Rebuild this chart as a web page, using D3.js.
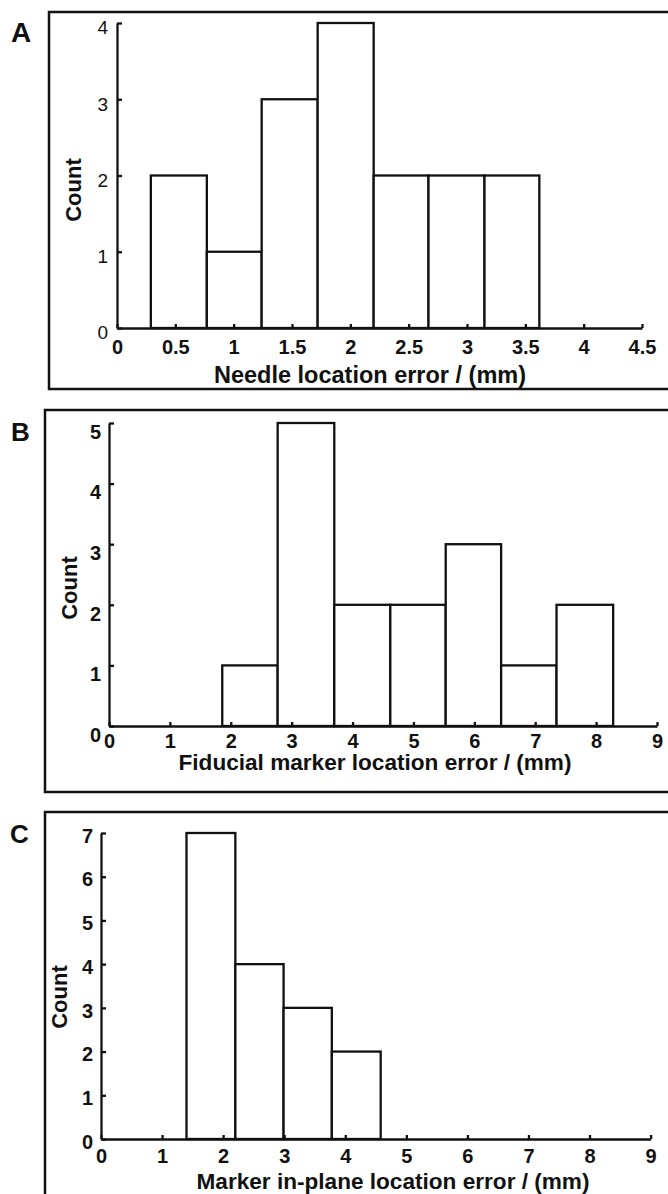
<!DOCTYPE html>
<html>
<head>
<meta charset="utf-8">
<script src="https://cdn.jsdelivr.net/npm/d3@7"></script>
<style>
  body { margin: 0; background: #fff; }
  svg { display: block; }
  text { font-family: "Liberation Sans", Arial, Helvetica, sans-serif; fill: #111; }
</style>
</head>
<body>
<svg id="fig" width="668" height="1194"></svg>
<script>
// ---- data ----
// A: needle location error histogram
var aEdges = [0.29, 0.77, 1.24, 1.72, 2.20, 2.67, 3.15, 3.62]
var aCounts = [2, 1, 3, 4, 2, 2, 2]
var aXTicks = [0, 0.5, 1, 1.5, 2, 2.5, 3, 3.5, 4, 4.5]
var aYTicks = [0, 1, 2, 3, 4]

// B: fiducial marker location error
var bEdges = [1.86, 2.77, 3.70, 4.62, 5.53, 6.44, 7.35, 8.28]
var bCounts = [1, 5, 2, 2, 3, 1, 2]
var bXTicks = [0, 1, 2, 3, 4, 5, 6, 7, 8, 9]
var bYTicks = [0, 1, 2, 3, 4, 5]

// C: marker in-plane location error
var cEdges = [1.40, 2.20, 2.99, 3.78, 4.58]
var cCounts = [7, 4, 3, 2]
var cXTicks = [0, 1, 2, 3, 4, 5, 6, 7, 8, 9]
var cYTicks = [0, 1, 2, 3, 4, 5, 6, 7]

var panels = [
  {letter: "A", edges: aEdges, counts: aCounts, xTicks: aXTicks, yTicks: aYTicks,
   xTitle: "Needle location error / (mm)",
   frame: {x: 49, y: 12, h: 377}, xr: [117, 642], yr: [328, 23],
   letterPos: [11, 42], letterSize: 28,
   xLab: {dy: 19, size: 20}, yLab: {dx: 9, dy: 4, size: 19, weight: "normal"},
   countPos: [73, 190], titlePos: [370, 375], titleSize: 23.5},
  {letter: "B", edges: bEdges, counts: bCounts, xTicks: bXTicks, yTicks: bYTicks,
   xTitle: "Fiducial marker location error / (mm)",
   frame: {x: 45, y: 410, h: 382}, xr: [109, 657], yr: [726, 423],
   letterPos: [11, 441], letterSize: 26,
   xLab: {dy: 15, size: 20}, yLab: {dx: 8, dy: 8, size: 20, weight: "bold"},
   countPos: [69, 588], titlePos: [375, 762], titleSize: 22.6},
  {letter: "C", edges: cEdges, counts: cCounts, xTicks: cXTicks, yTicks: cYTicks,
   xTitle: "Marker in-plane location error / (mm)",
   frame: {x: 45, y: 812, h: 400}, xr: [101, 650.6], yr: [1139, 833],
   letterPos: [10, 843], letterSize: 26,
   xLab: {dy: 17, size: 20}, yLab: {dx: 8, dy: 2, size: 20, weight: "bold"},
   countPos: [59, 997], titlePos: [393, 1181], titleSize: 22.6}
]

var svg = d3.select("#fig")

panels.forEach(function (p) {
  var g = svg.append("g")

  var xScale = d3.scaleLinear()
    .domain([0, d3.max(p.xTicks)])
    .range(p.xr)
  var yScale = d3.scaleLinear()
    .domain([0, d3.max(p.yTicks)])
    .range(p.yr)

  // frame round each panel (runs off the right edge)
  g.append("rect")
    .attr("x", p.frame.x)
    .attr("y", p.frame.y)
    .attr("width", 700 - p.frame.x)
    .attr("height", p.frame.h)
    .attr("fill", "none")
    .attr("stroke", "#111")
    .attr("stroke-width", 2.5)

  g.append("text")
    .attr("x", p.letterPos[0])
    .attr("y", p.letterPos[1])
    .attr("font-size", p.letterSize)
    .attr("font-weight", "bold")
    .text(p.letter)

  // histogram bars
  g.selectAll(".bar")
    .data(p.counts)
    .enter()
    .append("rect")
    .attr("class", "bar")
    .attr("x", function (d, i) { return xScale(p.edges[i]) })
    .attr("width", function (d, i) { return xScale(p.edges[i + 1]) - xScale(p.edges[i]) })
    .attr("y", function (d) { return yScale(d) })
    .attr("height", function (d) { return yScale(0) - yScale(d) })
    .attr("fill", "#fff")
    .attr("stroke", "#111")
    .attr("stroke-width", 2.3)

  // x axis, ticks pointing up
  var xAxis = g.append("g")
    .attr("transform", "translate(0," + p.yr[0] + ")")
    .call(d3.axisBottom(xScale)
      .tickValues(p.xTicks)
      .tickSizeInner(-4)
      .tickSizeOuter(0)
      .tickFormat(d3.format("~g")))
  xAxis.attr("font-family", null).attr("font-size", null)
  xAxis.selectAll("path, line").attr("stroke", "#111").attr("stroke-width", 2.3)
  xAxis.selectAll("text")
    .attr("y", p.xLab.dy)
    .attr("dy", "0.36em")
    .attr("font-size", p.xLab.size)
    .attr("font-weight", "bold")
    .attr("fill", "#111")

  // y axis, ticks pointing right
  var yAxis = g.append("g")
    .attr("transform", "translate(" + p.xr[0] + ",0)")
    .call(d3.axisLeft(yScale)
      .tickValues(p.yTicks)
      .tickSizeInner(-5)
      .tickSizeOuter(0)
      .tickFormat(d3.format("d")))
  yAxis.attr("font-family", null).attr("font-size", null)
  yAxis.selectAll("path, line").attr("stroke", "#111").attr("stroke-width", 2.3)
  yAxis.selectAll("text")
    .attr("x", -p.yLab.dx)
    .attr("y", p.yLab.dy)
    .attr("dy", "0.36em")
    .attr("font-size", p.yLab.size)
    .attr("font-weight", p.yLab.weight)
    .attr("fill", "#111")

  g.append("text")
    .attr("transform", "translate(" + p.countPos[0] + "," + p.countPos[1] + ") rotate(-90)")
    .attr("text-anchor", "middle")
    .attr("dy", "0.36em")
    .attr("font-size", 22)
    .attr("font-weight", "bold")
    .text("Count")

  g.append("text")
    .attr("x", p.titlePos[0])
    .attr("y", p.titlePos[1])
    .attr("text-anchor", "middle")
    .attr("dy", "0.36em")
    .attr("font-size", p.titleSize)
    .attr("font-weight", "bold")
    .text(p.xTitle)
})
</script>
</body>
</html>
